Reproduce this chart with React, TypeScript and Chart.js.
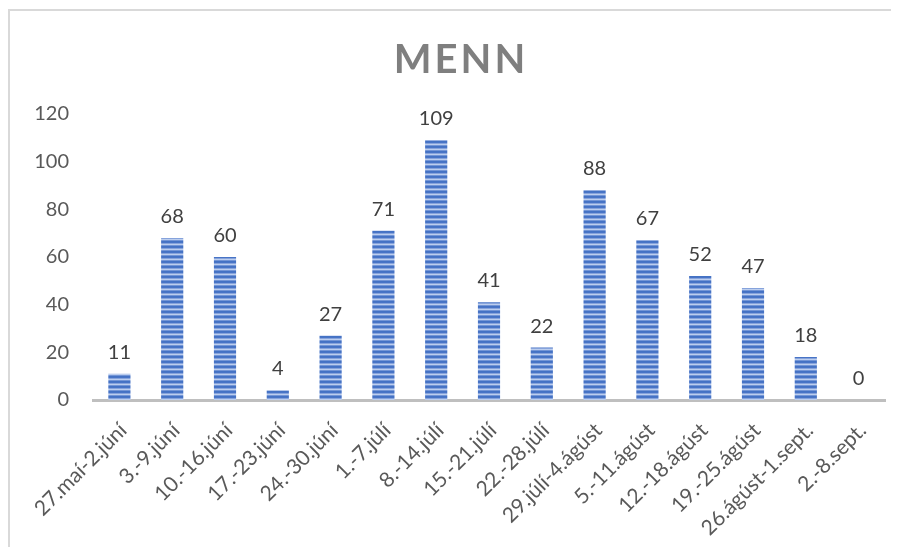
import React, { useEffect, useRef } from "react";
import { Chart, registerables } from "chart.js";

Chart.register(...registerables);

const titleText = "MENN";
const categories = [
  "27.maí-2.júní",
  "3.-9.júní",
  "10.-16.júní",
  "17.-23.júní",
  "24.-30.júní",
  "1.-7.júlí",
  "8.-14.júlí",
  "15.-21.júlí",
  "22.-28.júlí",
  "29.júlí-4.ágúst",
  "5.-11.ágúst",
  "12.-18.ágúst",
  "19.-25.ágúst",
  "26.ágúst-1.sept.",
  "2.-8.sept.",
];
const values = [11, 68, 60, 4, 27, 71, 109, 41, 22, 88, 67, 52, 47, 18, 0];
const yMin = 0;
const yMax = 120;
const yStep = 20;

const FONT = "Lato, 'Open Sans', sans-serif";

function makePattern(): CanvasPattern | string {
  const c = document.createElement("canvas");
  c.width = 4;
  c.height = 5;
  const ctx = c.getContext("2d");
  if (!ctx) return "#4472C4";
  const rows = ["#4472C4", "#4874C6", "#86A3DC", "#BCCEEE", "#7395D6"];
  rows.forEach((col, i) => {
    ctx.fillStyle = col;
    ctx.fillRect(0, i, 4, 1);
  });
  return ctx.createPattern(c, "repeat") || "#4472C4";
}

const dataLabelPlugin = {
  id: "dataLabels",
  afterDatasetsDraw(chart: any) {
    const ctx = chart.ctx;
    const meta = chart.getDatasetMeta(0);
    ctx.save();
    ctx.font = `20px ${FONT}`;
    ctx.fillStyle = "#404040";
    ctx.textAlign = "center";
    ctx.textBaseline = "alphabetic";
    meta.data.forEach((bar: any, i: number) => {
      const v = chart.data.datasets[0].data[i];
      ctx.fillText(String(v), bar.x, bar.y - 15);
    });
    ctx.restore();
  },
};

const titlePlugin = {
  id: "spacedTitle",
  afterDraw(chart: any) {
    const ctx = chart.ctx;
    ctx.save();
    ctx.font = `bold 40px ${FONT}`;
    ctx.fillStyle = "#7F7F7F";
    (ctx as any).letterSpacing = "3px";
    ctx.textAlign = "center";
    ctx.textBaseline = "alphabetic";
    ctx.fillText(titleText, 451, 62);
    ctx.restore();
  },
};

export default function App() {
  const ref = useRef<HTMLCanvasElement | null>(null);

  useEffect(() => {
    if (!ref.current) return;
    const chart = new Chart(ref.current, {
      type: "bar",
      data: {
        labels: categories,
        datasets: [
          {
            data: values,
            backgroundColor: makePattern() as any,
            borderWidth: 0,
            barPercentage: 0.42,
            categoryPercentage: 1,
          },
        ],
      },
      options: {
        animation: false,
        responsive: false,
        maintainAspectRatio: false,
        layout: { padding: { top: 103, right: 14, left: 0, bottom: 0 } },
        plugins: {
          legend: { display: false },
          title: { display: false },
          tooltip: { enabled: false },
        },
        scales: {
          x: {
            grid: { display: false },
            border: { display: true, color: "#BFBFBF", width: 3 },
            ticks: {
              color: "#595959",
              font: { family: FONT, size: 21 },
              minRotation: 45,
              maxRotation: 45,
              autoSkip: false,
              padding: 10,
              labelOffset: 4,
            },
            afterFit: (scale: any) => {
              scale.height = 147;
            },
          },
          y: {
            min: yMin,
            max: yMax,
            grid: { display: false },
            border: { display: false },
            ticks: {
              stepSize: yStep,
              color: "#595959",
              font: { family: FONT, size: 20 },
              padding: 16,
            },
            afterFit: (scale: any) => {
              scale.width = 83;
            },
          },
        },
      },
      plugins: [dataLabelPlugin, titlePlugin],
    });
    return () => chart.destroy();
  }, []);

  return (
    <div
      style={{
        borderLeft: "2px solid #D9D9D9",
        borderTop: "2px solid #D9D9D9",
        width: 889,
        height: 536,
        marginTop: 1,
      }}
    >
      <canvas ref={ref} width={889} height={536} style={{ display: "block" }} />
    </div>
  );
}
